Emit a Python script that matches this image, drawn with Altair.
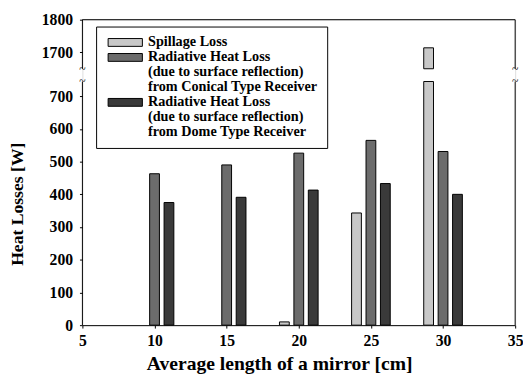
import altair as alt
import pandas as pd

# ---- data ----
lengths = [10, 15, 20, 25, 30]
spillage = [0, 0, 10, 343, 1714]
conical = [463, 490, 526, 565, 531]
dome = [375, 391, 413, 433, 400]

# series keys (first legend line) and their continuation lines
series_names = ["Spillage Loss", "Radiative Heat Loss", "Radiative Heat Loss "]
series_offsets = [-1, 0, 1]
legend_entries = [
    "Spillage Loss",
    "Radiative Heat Loss",
    "(due to surface reflection)",
    "from Conical Type Receiver",
    "Radiative Heat Loss ",
    "(due to surface reflection) ",
    "from Dome Type Receiver",
]
legend_fill = ["#c8c8c8", "#6c6c6c", "transparent", "transparent", "#3a3a3a", "transparent", "transparent"]
legend_stroke = ["black", "black", "transparent", "transparent", "black", "transparent", "transparent"]

x_ticks = [5, 10, 15, 20, 25, 30, 35]
low_ticks = [0, 100, 200, 300, 400, 500, 600, 700]
up_ticks = [1700, 1800]

# broken y axis: lower part 0..745, upper part 1650..1800
X_DOM = [5, 35]
LOW_MAX = 745
UP_MIN = 1650
UP_MAX = 1800
GAP = 39
SHIFT = LOW_MAX + GAP - UP_MIN
TOP = UP_MAX + SHIFT

rows = []
for name, off, vals in zip(series_names, series_offsets, [spillage, conical, dome]):
    for L, v in zip(lengths, vals):
        rows.append({"length": L, "pos": L + off, "loss": v, "series": name})
df = pd.DataFrame(rows)

frame_df = pd.DataFrame({
    "pos": [X_DOM[0], X_DOM[0], X_DOM[1], X_DOM[1]],
    "y0": [0, LOW_MAX + GAP, 0, LOW_MAX + GAP],
    "y1": [LOW_MAX, TOP, LOW_MAX, TOP],
})
top_df = pd.DataFrame({"pos": [X_DOM[0]], "pos2": [X_DOM[1]], "y0": [TOP]})
break_df = pd.DataFrame({
    "pos": [X_DOM[0], X_DOM[0], X_DOM[1], X_DOM[1]],
    "y0": [LOW_MAX, LOW_MAX + GAP, LOW_MAX, LOW_MAX + GAP],
})

FONT = "Liberation Serif"
W = 442
H = 312

legend = alt.Legend(
    title=None,
    orient="none",
    legendX=14,
    legendY=7,
    symbolType="M-4.375,-1H4.375V1H-4.375Z",
    symbolSize=64,
    symbolOffset=13.5,
    symbolStrokeWidth=1,
    labelFont=FONT,
    labelFontSize=14.5,
    labelFontWeight="bold",
    labelColor="black",
    labelLimit=400,
    labelOffset=16,
    strokeColor="black",
    fillColor="white",
    padding=9,
    rowPadding=0.3,
)
color = alt.Color("series:N", scale=alt.Scale(domain=legend_entries, range=legend_fill), legend=legend)
stroke = alt.Stroke("series:N", scale=alt.Scale(domain=legend_entries, range=legend_stroke), legend=legend)

axis_common = dict(
    labelFont=FONT,
    labelFontSize=16,
    labelFontWeight="bold",
    labelColor="black",
    labelFlush=False,
    titleFont=FONT,
    titleFontWeight="bold",
    titleColor="black",
    domainColor="black",
    tickColor="black",
    grid=False,
)

X = alt.X(
    "pos:Q",
    scale=alt.Scale(domain=X_DOM, nice=False, padding=0),
    axis=alt.Axis(values=x_ticks, title="Average length of a mirror [cm]", titleFontSize=20,
                  titleX=201, tickSize=3, labelPadding=5, titlePadding=5, **axis_common),
)
Y = alt.Y(
    "y0:Q",
    scale=alt.Scale(domain=[0, TOP], nice=False, padding=0),
    axis=alt.Axis(
        values=low_ticks + [t + SHIFT for t in up_ticks],
        labelExpr=f"datum.value > {LOW_MAX} ? datum.value - ({SHIFT}) : datum.value",
        title="Heat Losses [W]",
        titleFontSize=18,
        titleY=188,
        tickSize=3,
        labelPadding=7,
        titlePadding=15,
        domain=False,
        **axis_common,
    ),
)

bars_lo = (
    alt.Chart(df)
    .transform_filter("datum.loss > 0")
    .transform_calculate(y0="0", y1=f"min(datum.loss, {LOW_MAX})")
    .mark_bar(size=10, strokeWidth=1)
    .encode(x=X, y=Y, y2="y1:Q", color=color, stroke=stroke)
)
bars_up = (
    alt.Chart(df)
    .transform_filter(f"datum.loss > {UP_MIN}")
    .transform_calculate(y0=f"{LOW_MAX + GAP}", y1=f"min(datum.loss, {UP_MAX}) + ({SHIFT})")
    .mark_bar(size=10, strokeWidth=1)
    .encode(x=X, y=Y, y2="y1:Q", color=color, stroke=stroke)
)
frame = alt.Chart(frame_df).mark_rule(color="black", strokeWidth=1).encode(x=X, y=Y, y2="y1:Q")
top_line = alt.Chart(top_df).mark_rule(color="black", strokeWidth=1).encode(x=X, x2="pos2:Q", y=Y)
breaks = alt.Chart(break_df).mark_text(text="~", fontSize=12, font=FONT, color="black").encode(x=X, y=Y)

chart = (
    alt.layer(bars_lo, bars_up, frame, top_line, breaks)
    .properties(width=W, height=H, padding={"top": 0, "left": 1, "right": 0, "bottom": 0})
    .configure_view(stroke=None)
    .configure(background="white")
)

chart.save("out.html", embed_options={"renderer": "svg", "actions": False})
